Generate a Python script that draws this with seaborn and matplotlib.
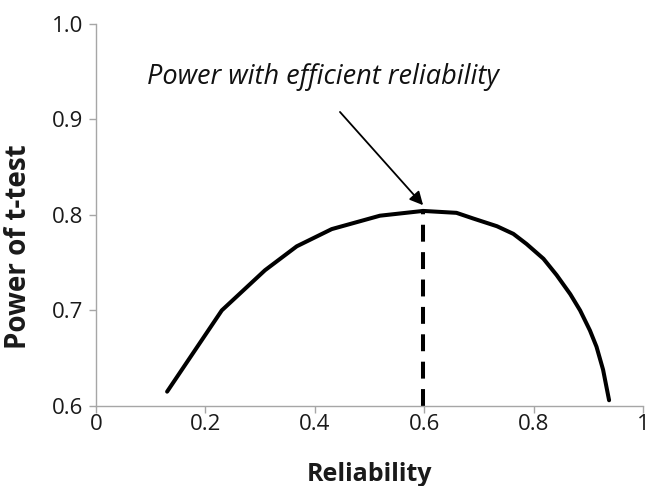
import matplotlib
matplotlib.use("Agg")
import matplotlib.pyplot as plt
import seaborn as sns
import pandas as pd

# Data
reliability = [0.130, 0.230, 0.309, 0.367, 0.431, 0.519, 0.598, 0.659, 0.690, 0.733,
               0.763, 0.787, 0.818, 0.842, 0.867, 0.885, 0.903, 0.915, 0.927, 0.938]
power = [0.615, 0.700, 0.742, 0.767, 0.785, 0.799, 0.804, 0.802, 0.796, 0.788,
         0.780, 0.7695, 0.754, 0.737, 0.717, 0.700, 0.679, 0.662, 0.638, 0.606]
opt_rel = 0.598
opt_power = 0.804
x_ticks = [0, 0.2, 0.4, 0.6, 0.8, 1.0]
x_tick_labels = ["0", "0.2", "0.4", "0.6", "0.8", "1"]
y_ticks = [0.6, 0.7, 0.8, 0.9, 1.0]
y_tick_labels = ["0.6", "0.7", "0.8", "0.9", "1.0"]
annotation = "Power with efficient reliability"

sns.set_theme(style="white")
plt.rcParams["font.family"] = ["Open Sans", "DejaVu Sans"]

df = pd.DataFrame({"Reliability": reliability, "Power": power})

fig = plt.figure(figsize=(6.6, 4.86), dpi=100)
ax = fig.add_axes([96 / 660, 1 - 406 / 486, (643 - 96) / 660, (406 - 23.5) / 486])

sns.lineplot(data=df, x="Reliability", y="Power", ax=ax, color="black",
             linewidth=2.9, solid_capstyle="round", solid_joinstyle="round")
ax.plot([opt_rel, opt_rel], [0.6, opt_power], color="black", linewidth=2.9,
        linestyle=(0, (4.2, 2.6)), dash_capstyle="butt")

ax.annotate("", xy=(opt_rel, opt_power + 0.006), xytext=(0.446, 0.9075),
            arrowprops=dict(arrowstyle="-|>", color="black", lw=1.3,
                            mutation_scale=20, shrinkA=0, shrinkB=0))
ax.text(0.093, 0.937, annotation, fontsize=19.5, style="italic",
        color="#111111", ha="left", va="baseline")

ax.set_xlim(0, 1)
ax.set_ylim(0.6, 1.0)
ax.set_xticks(x_ticks)
ax.set_xticklabels(x_tick_labels)
ax.set_yticks(y_ticks)
ax.set_yticklabels(y_tick_labels)

for s in ["top", "right"]:
    ax.spines[s].set_visible(False)
for s in ["left", "bottom"]:
    ax.spines[s].set_color("#a6a6a6")
    ax.spines[s].set_linewidth(1.0)

ax.tick_params(axis="both", which="both", direction="out", length=5, width=1.0,
               color="#a6a6a6", labelsize=16, labelcolor="#1a1a1a",
               bottom=True, left=True)
ax.tick_params(axis="y", pad=4)
ax.tick_params(axis="x", pad=1)

ax.set_xlabel("Reliability", fontsize=18, fontweight="bold", color="#1a1a1a")
ax.set_ylabel("Power of t-test", fontsize=20, fontweight="bold", color="#1a1a1a")
ax.xaxis.set_label_coords(0.5, -0.146)
ax.yaxis.set_label_coords(-0.115, 0.416)

fig.savefig("out.png", dpi=100)
